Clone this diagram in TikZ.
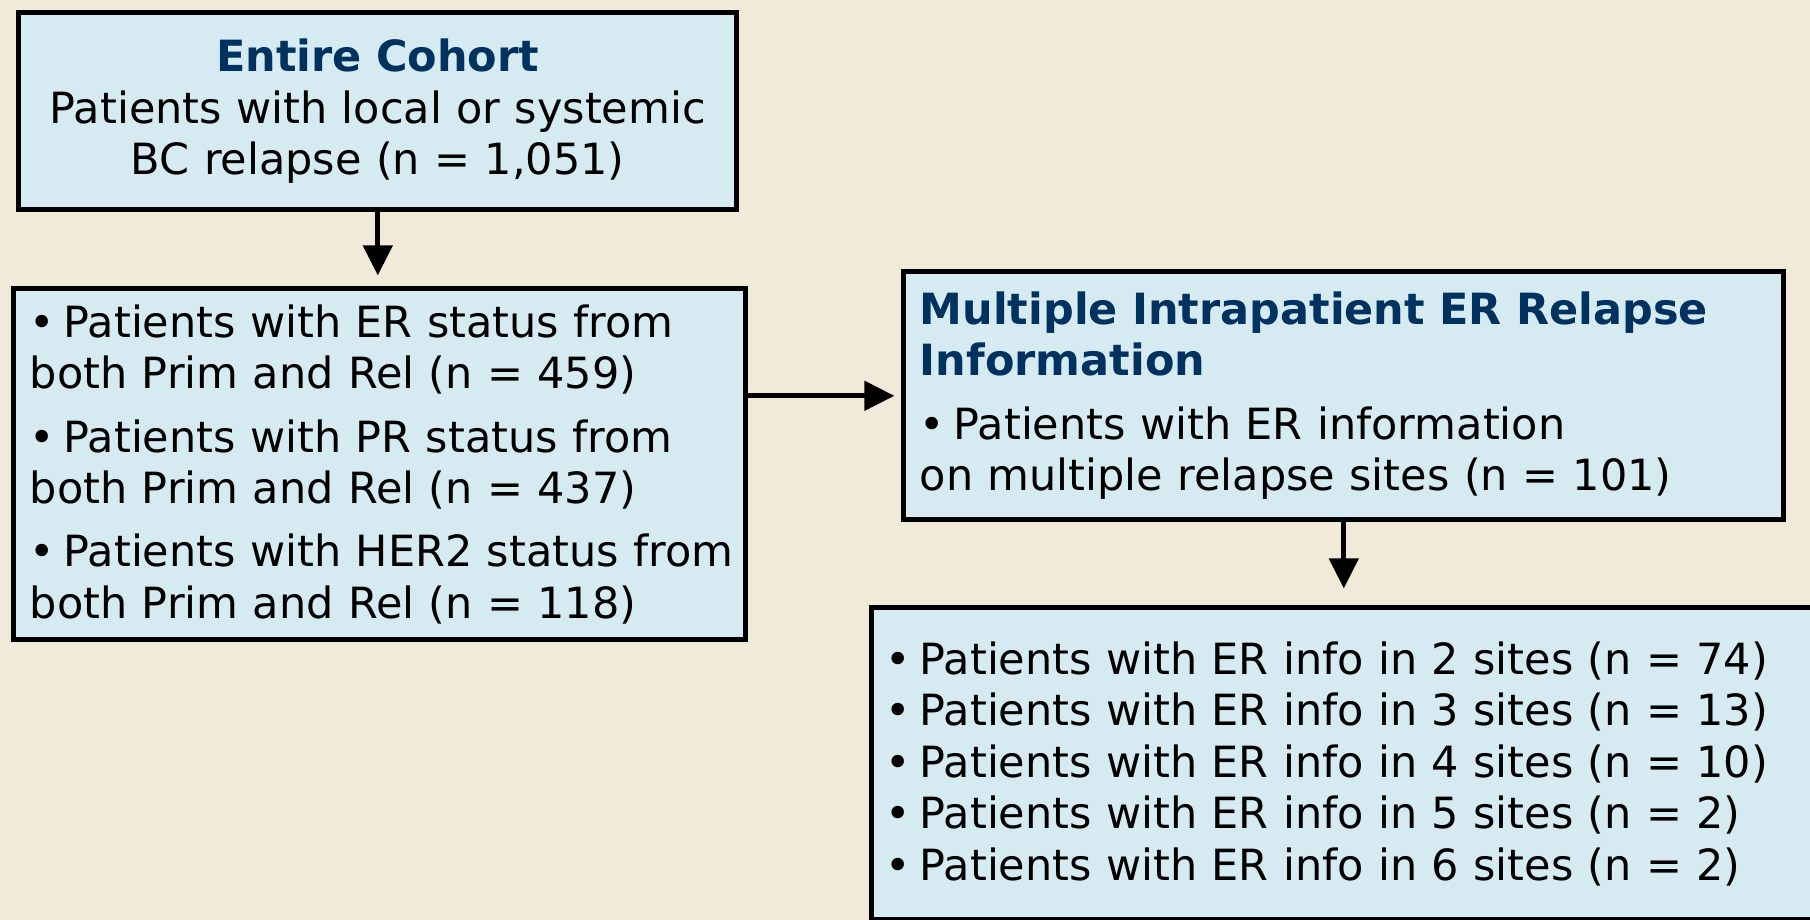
\documentclass[tikz,border=0pt]{standalone}
\usepackage{fontspec}
\setmainfont{DejaVu Sans}
\usetikzlibrary{arrows.meta,positioning}

\definecolor{cream}{RGB}{241,234,216}
\definecolor{paleblue}{RGB}{214,234,241}
\definecolor{navy}{RGB}{0,50,95}

\newcommand{\itm}{•\hspace{0.2em}}

\begin{document}
\begin{tikzpicture}[
  x=1pt, y=1pt,
  font=\fontsize{21.5}{25.7}\selectfont,
  >={Triangle[length=15pt,width=14.5pt]},
  box/.style={draw, line width=2.4pt, fill=paleblue, anchor=north west, align=left, inner xsep=8pt, inner ysep=0pt},
  arr/.style={->, line width=2.4pt}
]

\fill[cream] (0,0) rectangle (905,-460);
\useasboundingbox (0,0) rectangle (905,-460);

\node[box, align=center, minimum width=359pt, minimum height=98.5pt, text width=343pt] (cohort) at (8.2,-5.2) {
\textcolor{navy}{\bfseries Entire Cohort}\\
Patients with local or systemic\\
BC relapse (n = 1,051)
};

\node[box, minimum width=366pt, minimum height=175.5pt, text width=350pt] (status) at (5.7,-143.2) {
\itm Patients with ER status from\\
both Prim and Rel (n = 459)\\[6pt]
\itm Patients with PR status from\\
both Prim and Rel (n = 437)\\[6pt]
\mbox{\itm Patients with HER2 status from}\\
both Prim and Rel (n = 118)
};

\node[box, minimum width=440pt, minimum height=124pt, text width=424pt] (multi) at (450.7,-134.7) {
\textcolor{navy}{\bfseries Multiple Intrapatient ER Relapse}\\
\textcolor{navy}{\bfseries Information}\\[6pt]
\itm Patients with ER information\\
on multiple relapse sites (n = 101)
};

\node[box, inner xsep=7pt, minimum width=490pt, minimum height=156pt, text width=476pt] (sites) at (434.7,-302.7) {
\itm Patients with ER info in 2 sites (n = 74)\\
\itm Patients with ER info in 3 sites (n = 13)\\
\itm Patients with ER info in 4 sites (n = 10)\\
\itm Patients with ER info in 5 sites (n = 2)\\
\itm Patients with ER info in 6 sites (n = 2)
};

\draw[arr, shorten >=5.5pt] (cohort) -- (cohort |- status.north);
\draw[arr, shorten >=3.5pt] (status.east |- multi) -- (multi.west);
\draw[arr, shorten >=8.5pt] (multi) -- (multi |- sites.north);

\end{tikzpicture}
\end{document}
